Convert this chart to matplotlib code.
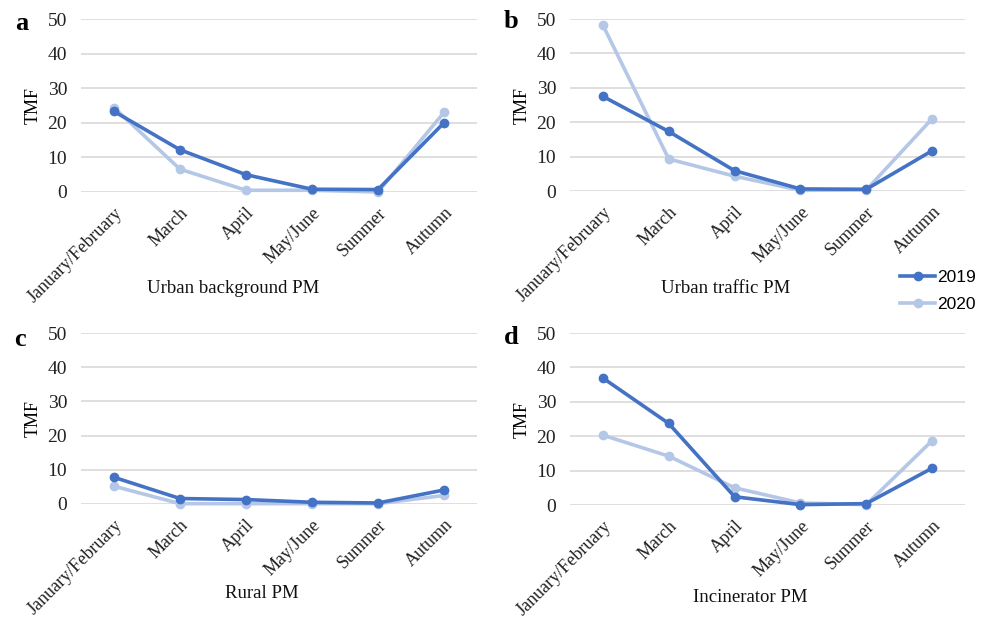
import matplotlib.pyplot as plt
from matplotlib.lines import Line2D

categories = ["January/February", "March", "April", "May/June", "Summer", "Autumn"]

urban_bg_2019 = [23.3, 12.2, 5.0, 0.8, 0.7, 20.0]
urban_bg_2020 = [24.4, 6.6, 0.5, 0.5, 0.0, 23.0]

urban_tr_2019 = [27.5, 17.3, 5.9, 0.6, 0.5, 11.7]
urban_tr_2020 = [48.2, 9.3, 4.3, 0.2, 0.3, 21.0]

rural_2019 = [7.8, 1.6, 1.3, 0.5, 0.3, 4.1]
rural_2020 = [5.2, 0.1, 0.1, 0.1, 0.1, 2.5]

incin_2019 = [36.9, 23.7, 2.4, 0.1, 0.4, 10.7]
incin_2020 = [20.3, 14.2, 5.0, 0.6, 0.1, 18.7]

titles = ["Urban background PM", "Urban traffic PM", "Rural PM", "Incinerator PM"]
letters = ["a", "b", "c", "d"]
yticks = [0, 10, 20, 30, 40, 50]

c2019 = "#4472C4"
c2020 = "#B4C7E7"
serif = "Liberation Serif"

W, H = 987, 620
fig = plt.figure(figsize=(9.87, 6.2), dpi=100)


def px_axes(x0, x1, ytop, ybot):
    return fig.add_axes([x0 / W, 1 - ybot / H, (x1 - x0) / W, (ybot - ytop) / H])


# pixel boxes of the four plot areas (left, right, y of 50, y of 0)
boxes = [(81, 477, 19, 192), (570, 965, 19, 191), (81, 477, 333, 504), (570, 965, 333, 505)]
data = [(urban_bg_2019, urban_bg_2020), (urban_tr_2019, urban_tr_2020),
        (rural_2019, rural_2020), (incin_2019, incin_2020)]
title_pos = [(233, 289), (726, 289), (262, 593), (750, 598)]
letter_pos = [(22, 24), (511, 22), (20, 339), (511, 338)]

for i in range(4):
    x0, x1, yt, yb = boxes[i]
    ax = px_axes(x0, x1, yt, yb)
    s19, s20 = data[i]
    x = range(len(categories))
    ax.plot(x, s20, color=c2020, lw=2.6, marker="o", ms=6, clip_on=False, zorder=3)
    ax.plot(x, s19, color=c2019, lw=2.6, marker="o", ms=6, clip_on=False, zorder=4)
    ax.set_xlim(-0.5, len(categories) - 0.5)
    ax.set_ylim(0, 50)
    ax.set_yticks(yticks)
    ax.set_xticks(list(x))
    ax.set_xticklabels(categories, rotation=45, ha="right", rotation_mode="anchor",
                       fontsize=13, family=serif, color="#222222")
    for lab in ax.get_yticklabels():
        lab.set_fontsize(14)
        lab.set_family(serif)
        lab.set_color("#222222")
    ax.tick_params(axis="both", length=0)
    ax.tick_params(axis="y", pad=10)
    ax.tick_params(axis="x", pad=9)
    ax.grid(axis="y", color="#D9D9D9", lw=1.2)
    ax.set_axisbelow(True)
    for sp in ax.spines.values():
        sp.set_visible(False)
    ax.set_ylabel("TMF", fontsize=13, family=serif, labelpad=4)
    tx, ty = title_pos[i]
    fig.text(tx / W, 1 - ty / H, titles[i], ha="center", va="center",
             fontsize=13.5, family=serif, color="#111111")
    lx, ly = letter_pos[i]
    fig.text(lx / W, 1 - ly / H, letters[i], ha="center", va="center",
             fontsize=19, family=serif, fontweight="bold")

handles = [Line2D([], [], color=c2019, lw=2.6, marker="o", ms=6),
           Line2D([], [], color=c2020, lw=2.6, marker="o", ms=6)]
fig.legend(handles, ["2019", "2020"], loc="center", bbox_to_anchor=(938 / W, 1 - 291 / H),
           frameon=False, prop={"family": "Liberation Sans", "size": 12.5},
           handlelength=2.0, handletextpad=0.1, labelspacing=0.7, borderaxespad=0)

fig.savefig("out.png", dpi=100)
